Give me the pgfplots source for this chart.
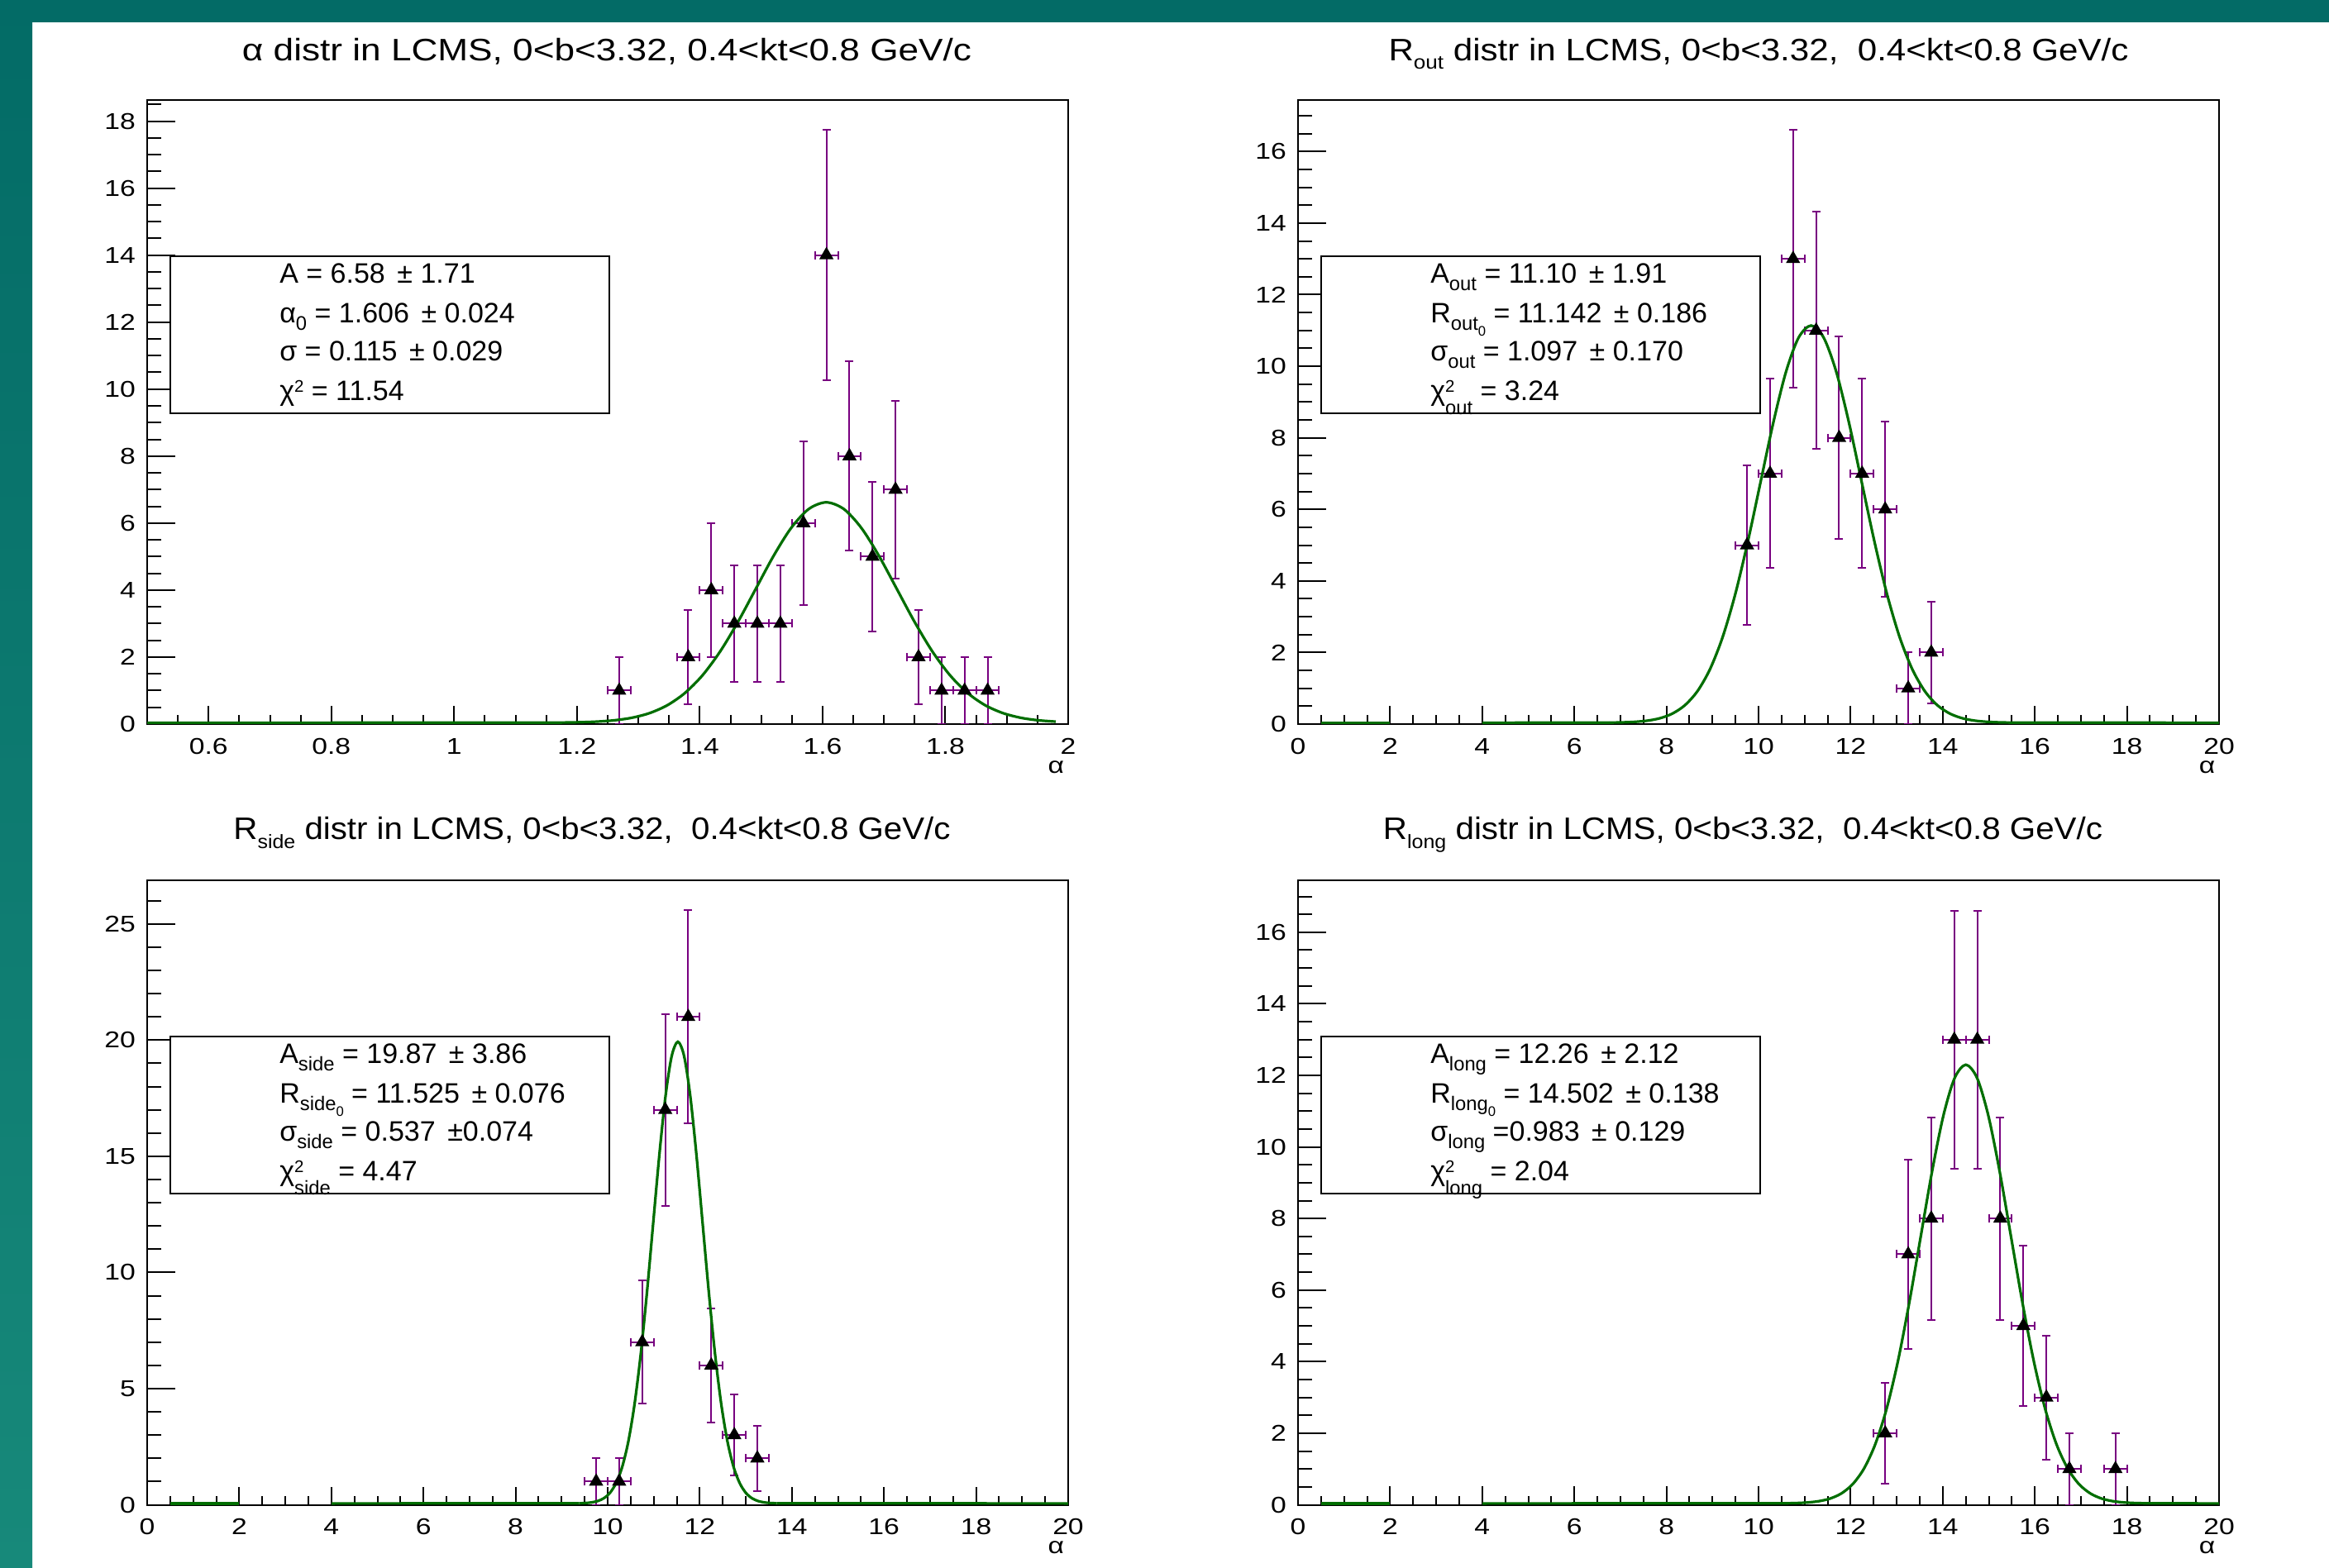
\documentclass[border=0pt]{standalone}
\usepackage{fontspec}
\setmainfont{Liberation Sans}
\newfontfamily\tfont{Liberation Sans}
\newfontfamily\bfont{Liberation Sans}
\newfontfamily\tkfont[FakeStretch=1.22]{Liberation Sans}
\usepackage{graphicx}
\usepackage{pgfplots}
\pgfplotsset{compat=1.18}

\definecolor{fitg}{RGB}{0,110,0}
\definecolor{errp}{RGB}{120,0,128}
\definecolor{tealtop}{RGB}{3,107,102}
\definecolor{tealbot}{RGB}{23,137,122}

\newcommand\sub[1]{\raisebox{-0.26em}{\scalebox{0.7}{#1}}}
\newcommand\sups[1]{\raisebox{0.3em}{\scalebox{0.6}{#1}}}
\newcommand\supsub[2]{\rlap{\sups{#1}}\raisebox{-0.5em}{\scalebox{0.7}{#2}}}
\newcommand\tsub[1]{\raisebox{-0.28em}{\scalebox{0.62}{#1}}}
\newcommand\pmx{\ \kern0.15em±}
\newcommand\boxfont{\bfont\fontsize{8.5pt}{10pt}\selectfont}
\newcommand\titlef{\tfont\fontsize{9.4pt}{11pt}\selectfont}
\newcommand\tickf{\tkfont\fontsize{6.9pt}{8pt}\selectfont}

\newcommand\statbox[6]{%
  \draw[line width=0.5pt, fill=white] (#1pt,#2pt) rectangle ({#1pt+132.75pt},{#2pt-47.5pt});
  \node[anchor=base west, inner sep=0pt] at ({#1pt+32.875pt},{#2pt-8.25pt}) {\boxfont #3};
  \node[anchor=base west, inner sep=0pt] at ({#1pt+32.875pt},{#2pt-20.25pt}) {\boxfont #4};
  \node[anchor=base west, inner sep=0pt] at ({#1pt+32.875pt},{#2pt-31.75pt}) {\boxfont #5};
  \node[anchor=base west, inner sep=0pt] at ({#1pt+32.875pt},{#2pt-43.625pt}) {\boxfont #6};
}

\pgfplotsset{
  rootax/.style={
    scale only axis, width=278.5pt, height=188.75pt, anchor=south west,
    tick pos=left, tick align=inside,
    axis line style={line width=0.5pt},
    every tick/.append style={black, line width=0.5pt},
    major x tick style={/pgfplots/major tick length=5.5pt},
    minor x tick style={/pgfplots/minor tick length=2.75pt},
    major y tick style={/pgfplots/major tick length=8.5pt},
    minor y tick style={/pgfplots/minor tick length=4.25pt},
    /pgf/number format/assume math mode=true,
    tick label style={font=\tickf},
    xticklabel style={yshift=-0.75pt},
    ymin=0,
  },
  datapts/.style={only marks, mark=triangle*, mark size=2.1pt, color=black,
    error bars/.cd, x dir=both, x explicit, y dir=both, y explicit,
    error bar style={color=errp, line width=0.5pt},
    error mark options={rotate=90, color=errp, mark size=1.25pt, line width=0.5pt}},
  fitc/.style={color=fitg, line width=0.8pt, no markers, yshift=0.4pt},
}

\begin{document}
\begin{tikzpicture}
\useasboundingbox (0,0) rectangle (704.25pt,474pt);
\fill[white] (0,0) rectangle (704.25pt,474pt);
\fill[tealtop] (0,467.325pt) rectangle (704.25pt,474pt);
\shade[top color=tealtop, bottom color=tealbot] (0,0) rectangle (9.75pt,474pt);

% ---------- Panel 1: alpha ----------
\begin{axis}[rootax, at={(44.5pt,255pt)},
  xmin=0.5, xmax=2, ymax=18.63,
  xtick={0.6,0.8,1,1.2,1.4,1.6,1.8,2},
  minor xtick={0.5,0.55,...,2},
  ytick={0,2,...,18},
  minor ytick={0,0.5,...,18.5}]
\addplot[datapts] coordinates {
(1.26875,1) +- (0.01875,1)
(1.38125,2) +- (0.01875,1.414)
(1.41875,4) +- (0.01875,2)
(1.45625,3) +- (0.01875,1.732)
(1.49375,3) +- (0.01875,1.732)
(1.53125,3) +- (0.01875,1.732)
(1.56875,6) +- (0.01875,2.449)
(1.60625,14) +- (0.01875,3.742)
(1.64375,8) +- (0.01875,2.828)
(1.68125,5) +- (0.01875,2.236)
(1.71875,7) +- (0.01875,2.646)
(1.75625,2) +- (0.01875,1.414)
(1.79375,1) +- (0.01875,1)
(1.83125,1) +- (0.01875,1)
(1.86875,1) +- (0.01875,1)
};
\addplot[fitc] coordinates {(0.5,0)(1.146,0.0022)};
\addplot[fitc, smooth] coordinates {
(1.146,0.0022)(1.17475,0.0058)(1.2035,0.0144)(1.23225,0.0335)(1.261,0.0731)(1.28975,0.1500)(1.3185,0.2891)(1.34725,0.5235)(1.376,0.8906)(1.40475,1.423)(1.4335,2.136)(1.46225,3.013)(1.491,3.991)(1.51975,4.967)(1.5485,5.807)(1.57725,6.378)(1.606,6.580)(1.63475,6.378)(1.6635,5.807)(1.69225,4.967)(1.721,3.991)(1.74975,3.013)(1.7785,2.136)(1.80725,1.423)(1.836,0.8906)(1.86475,0.5235)(1.8935,0.2891)(1.92225,0.1500)(1.951,0.0731)(1.97975,0.0335)};
\end{axis}

% ---------- Panel 2: R_out ----------
\begin{axis}[rootax, at={(392.5pt,255pt)},
  xmin=0, xmax=20, ymax=17.44,
  xtick={0,2,...,20}, minor xtick={0,0.5,...,20},
  ytick={0,2,...,16}, minor ytick={0,0.5,...,17}]
\addplot[datapts] coordinates {
(9.75,5) +- (0.25,2.236)
(10.25,7) +- (0.25,2.646)
(10.75,13) +- (0.25,3.606)
(11.25,11) +- (0.25,3.317)
(11.75,8) +- (0.25,2.828)
(12.25,7) +- (0.25,2.646)
(12.75,6) +- (0.25,2.449)
(13.25,1) +- (0.25,1)
(13.75,2) +- (0.25,1.414)
};
\addplot[fitc] coordinates {(0.5,0)(2,0)};
\addplot[fitc] coordinates {(4,0)(6.754,0.0037)};
\addplot[fitc] coordinates {(15.53,0.0037)(20,0)};
\addplot[fitc, smooth] coordinates {
(6.754,0.0037)(7.02825,0.0098)(7.3025,0.0243)(7.57675,0.0565)(7.851,0.1233)(8.12525,0.2530)(8.3995,0.4877)(8.67375,0.8831)(8.948,1.502)(9.22225,2.401)(9.4965,3.604)(9.77075,5.082)(10.045,6.732)(10.31925,8.379)(10.5935,9.796)(10.86775,10.758)(11.142,11.100)(11.41625,10.758)(11.6905,9.796)(11.96475,8.379)(12.239,6.732)(12.51325,5.082)(12.7875,3.604)(13.06175,2.401)(13.336,1.502)(13.61025,0.8831)(13.8845,0.4877)(14.15875,0.2530)(14.433,0.1233)(14.70725,0.0565)(14.9815,0.0243)(15.25575,0.0098)(15.530,0.0037)};
\end{axis}

% ---------- Panel 3: R_side ----------
\begin{axis}[rootax, at={(44.5pt,18.875pt)},
  xmin=0, xmax=20, ymax=26.86,
  xtick={0,2,...,20}, minor xtick={0,0.5,...,20},
  ytick={0,5,...,25}, minor ytick={0,1,...,26}]
\addplot[datapts] coordinates {
(9.75,1) +- (0.25,1)
(10.25,1) +- (0.25,1)
(10.75,7) +- (0.25,2.646)
(11.25,17) +- (0.25,4.123)
(11.75,21) +- (0.25,4.583)
(12.25,6) +- (0.25,2.449)
(12.75,3) +- (0.25,1.732)
(13.25,2) +- (0.25,1.414)
};
\addplot[fitc] coordinates {(0.5,0)(2,0)};
\addplot[fitc] coordinates {(4,0)(9.377,0.0067)};
\addplot[fitc] coordinates {(13.673,0.0067)(20,0)};
\addplot[fitc, smooth] coordinates {
(9.377,0.0067)(9.51125,0.0176)(9.6455,0.0435)(9.77975,0.1011)(9.914,0.2207)(10.04825,0.4528)(10.1825,0.8731)(10.31675,1.581)(10.451,2.689)(10.58525,4.297)(10.7195,6.451)(10.85375,9.097)(10.988,12.052)(11.12225,14.999)(11.2565,17.535)(11.39075,19.259)(11.525,19.870)(11.65925,19.259)(11.7935,17.535)(11.92775,14.999)(12.062,12.052)(12.19625,9.097)(12.3305,6.451)(12.46475,4.297)(12.599,2.689)(12.73325,1.581)(12.8675,0.8731)(13.00175,0.4528)(13.136,0.2207)(13.27025,0.1011)(13.4045,0.0435)(13.53875,0.0176)(13.673,0.0067)};
\end{axis}

% ---------- Panel 4: R_long ----------
\begin{axis}[rootax, at={(392.5pt,18.875pt)},
  xmin=0, xmax=20, ymax=17.44,
  xtick={0,2,...,20}, minor xtick={0,0.5,...,20},
  ytick={0,2,...,16}, minor ytick={0,0.5,...,17}]
\addplot[datapts] coordinates {
(12.75,2) +- (0.25,1.414)
(13.25,7) +- (0.25,2.646)
(13.75,8) +- (0.25,2.828)
(14.25,13) +- (0.25,3.606)
(14.75,13) +- (0.25,3.606)
(15.25,8) +- (0.25,2.828)
(15.75,5) +- (0.25,2.236)
(16.25,3) +- (0.25,1.732)
(16.75,1) +- (0.25,1)
(17.75,1) +- (0.25,1)
};
\addplot[fitc] coordinates {(0.5,0)(2,0)};
\addplot[fitc] coordinates {(4,0)(10.57,0.0041)};
\addplot[fitc] coordinates {(18.434,0.0041)(20,0)};
\addplot[fitc, smooth] coordinates {
(10.570,0.0041)(10.81575,0.0108)(11.0615,0.0268)(11.30725,0.0624)(11.553,0.1362)(11.79875,0.2794)(12.0445,0.5387)(12.29025,0.9754)(12.536,1.659)(12.78175,2.651)(13.0275,3.980)(13.27325,5.613)(13.519,7.436)(13.76475,9.254)(14.0105,10.819)(14.25625,11.883)(14.502,12.260)(14.74775,11.883)(14.9935,10.819)(15.23925,9.254)(15.485,7.436)(15.73075,5.613)(15.9765,3.980)(16.22225,2.651)(16.468,1.659)(16.71375,0.9754)(16.9595,0.5387)(17.20525,0.2794)(17.451,0.1362)(17.69675,0.0624)(17.9425,0.0268)(18.18825,0.0108)(18.434,0.0041)};
\end{axis}

% ---------- Titles ----------
\node[anchor=base, inner sep=0pt] at (183.5pt,455.7pt) {\titlef\resizebox{220.5pt}{\height}{α distr in LCMS, 0<b<3.32, 0.4<kt<0.8 GeV/c}};
\node[anchor=base, inner sep=0pt] at (531.75pt,455.7pt) {\titlef\resizebox{223.75pt}{\height}{R\tsub{out} distr in LCMS, 0<b<3.32,\ \ 0.4<kt<0.8 GeV/c}};
\node[anchor=base, inner sep=0pt] at (179pt,220.1pt) {\titlef\resizebox{216.75pt}{\height}{R\tsub{side} distr in LCMS, 0<b<3.32,\ \ 0.4<kt<0.8 GeV/c}};
\node[anchor=base, inner sep=0pt] at (527pt,220.1pt) {\titlef\resizebox{217.5pt}{\height}{R\tsub{long} distr in LCMS, 0<b<3.32,\ \ 0.4<kt<0.8 GeV/c}};

% ---------- x labels ----------
\node[anchor=base east, inner sep=0pt] at (322pt,240pt) {\tickf α};
\node[anchor=base east, inner sep=0pt] at (670pt,240pt) {\tickf α};
\node[anchor=base east, inner sep=0pt] at (322pt,4.1pt) {\tickf α};
\node[anchor=base east, inner sep=0pt] at (670pt,4.1pt) {\tickf α};

% ---------- Stat boxes ----------
\statbox{51.5}{396.5}
  {A = 6.58\pmx\ 1.71}
  {α\sub{0} = 1.606\pmx\ 0.024}
  {σ = 0.115\pmx\ 0.029}
  {χ\sups{2} = 11.54}
\statbox{399.5}{396.5}
  {A\sub{out} = 11.10\pmx\ 1.91}
  {R\sub{out\sub{0}}\ = 11.142\pmx\ 0.186}
  {σ\sub{out} = 1.097\pmx\ 0.170}
  {χ\supsub{2}{out} = 3.24}
\statbox{51.5}{160.5}
  {A\sub{side} = 19.87\pmx\ 3.86}
  {R\sub{side\sub{0}}\ = 11.525\pmx\ 0.076}
  {σ\sub{side} = 0.537\pmx0.074}
  {χ\supsub{2}{side} = 4.47}
\statbox{399.5}{160.5}
  {A\sub{long} = 12.26\pmx\ 2.12}
  {R\sub{long\sub{0}}\ = 14.502\pmx\ 0.138}
  {σ\sub{long} =0.983\pmx\ 0.129}
  {χ\supsub{2}{long} = 2.04}
\end{tikzpicture}
\end{document}
